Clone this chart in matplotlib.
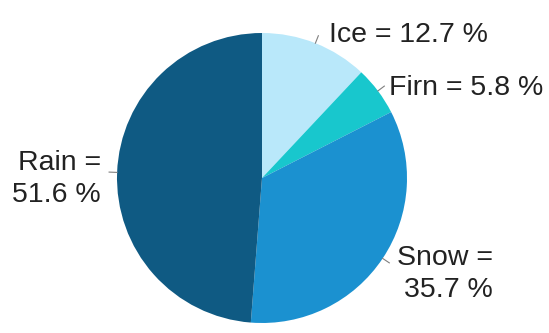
import numpy as np
import matplotlib
matplotlib.use("Agg")
import matplotlib.pyplot as plt

# Water-source shares (percent), drawn clockwise from 12 o'clock
sources = ["Ice", "Firn", "Snow", "Rain"]
shares = [12.7, 5.8, 35.7, 51.6]
colors = ["#B9E8FA", "#18C7CD", "#1B91D0", "#0F5A83"]

W, H = 549, 333
fig = plt.figure(figsize=(W / 100, H / 100), dpi=100)
ax = fig.add_axes([0, 0, 1, 1])

cx, cy, r = 262, H - 178, 145
wedges, _ = ax.pie(shares, colors=colors, startangle=90, counterclock=False,
                   center=(cx, cy), radius=r, frame=True,
                   wedgeprops=dict(linewidth=0))
ax.set_xlim(0, W)
ax.set_ylim(0, H)
ax.set_aspect("equal")
ax.axis("off")

txt = dict(fontsize=20.5, color="#222222", family=["Liberation Sans", "DejaVu Sans"])

# short leader ticks at each wedge's mid angle
for w in wedges:
    mid = np.deg2rad((w.theta1 + w.theta2) / 2)
    x0, y0 = cx + r * np.cos(mid), cy + r * np.sin(mid)
    x1, y1 = cx + (r + 8) * np.cos(mid), cy + (r + 8) * np.sin(mid)
    ax.plot([x0, x1], [y0, y1], color="#7f7f7f", lw=0.8)

# label placement: (x, baseline y of last line, horizontal alignment, two-line?)
placement = {
    "Ice": (329, H - 42, "left", False),
    "Firn": (389, H - 95, "left", False),
    "Snow": (493, H - 297, "right", True),
    "Rain": (101, H - 202, "right", True),
}
for name, val in zip(sources, shares):
    x, y, ha, two = placement[name]
    sep = "\n" if two else " "
    ax.text(x, y, f"{name} ={sep}{val} %", ha=ha, va="baseline",
            multialignment=ha, linespacing=1.32, **txt)

fig.savefig("out.png", dpi=100, facecolor="white")
